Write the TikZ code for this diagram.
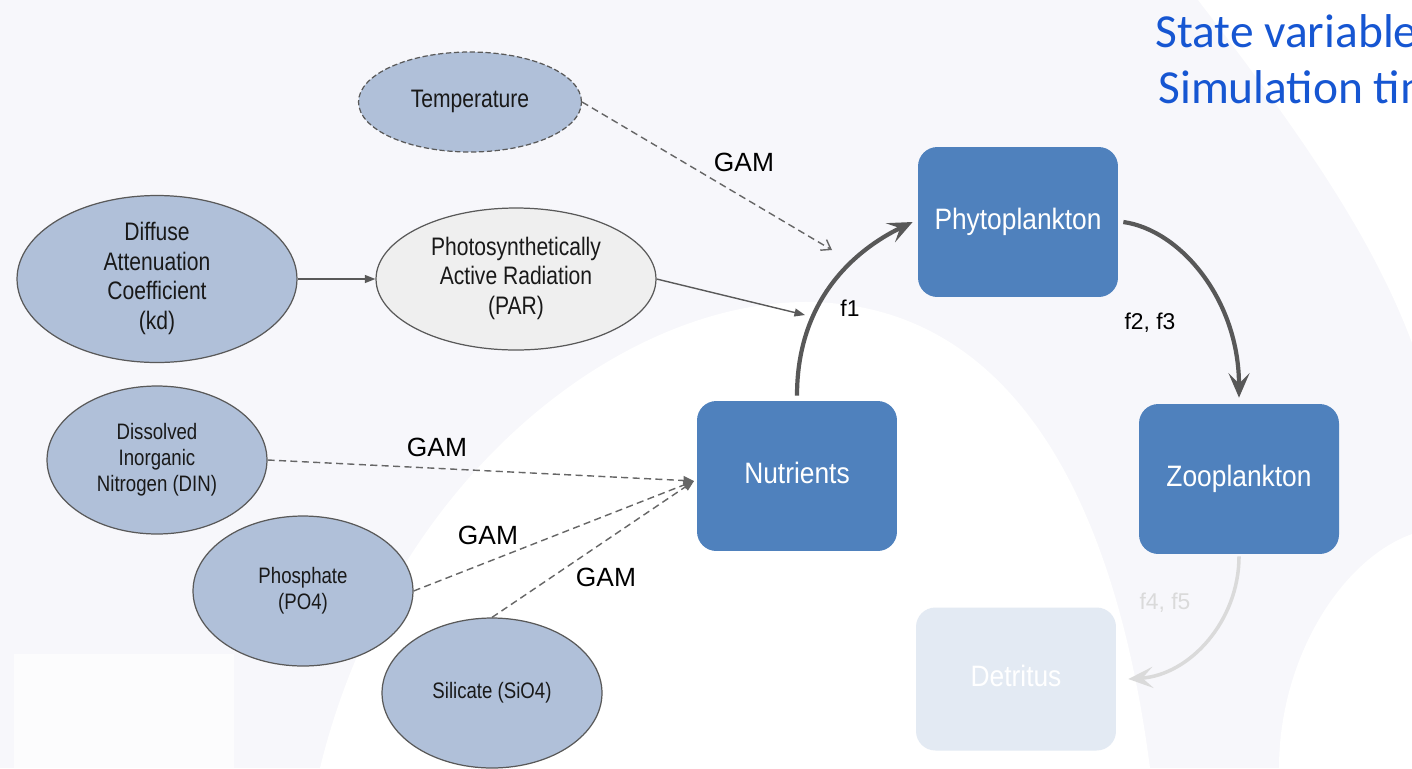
\documentclass[tikz,border=0pt]{standalone}
\usepackage{graphicx}
\usepackage{fontspec}
\setmainfont{Liberation Sans}
\newfontfamily\titlefont{Carlito}
\usetikzlibrary{shapes.geometric,arrows.meta}

\definecolor{bgpale}{RGB}{247,247,251}
\definecolor{ellblue}{RGB}{176,192,217}
\definecolor{pargray}{RGB}{239,239,239}
\definecolor{boxblue}{RGB}{79,129,189}
\definecolor{detpale}{RGB}{227,234,243}
\definecolor{linkgray}{RGB}{88,88,88}
\definecolor{fadegray}{RGB}{218,218,218}
\definecolor{titleblue}{RGB}{22,86,210}

\tikzstyle{driver}   = [ellipse, draw=black!65, line width=0.7pt, fill=ellblue, inner sep=0pt, text=black!90]
\tikzstyle{pool}     = [rectangle, rounded corners=11pt, fill=boxblue, text=white, minimum width=4cm, minimum height=3cm, font=\fontsize{15}{18}\selectfont]
\tikzstyle{gamlink}  = [draw=black!60, line width=0.8pt, dash pattern=on 4pt off 2.5pt, -{Triangle[length=6pt,width=5pt]}]
\tikzstyle{solidlink}= [draw=black!65, line width=0.8pt, -{Triangle[length=6pt,width=4.5pt]}]
\tikzstyle{flow}     = [draw=linkgray, line width=2.4pt, -{Stealth[length=14pt,width=12pt,inset=6pt]}]
\tikzstyle{gamlabel} = [font=\fontsize{15}{18}\selectfont]
\tikzstyle{flabel}   = [font=\fontsize{13}{15}\selectfont]
\newcommand{\tall}[2][1.2]{\scalebox{1}[#1]{\begin{tabular}{@{}c@{}}#2\end{tabular}}}

\begin{document}
\begin{tikzpicture}[x=0.02cm, y=-0.02cm]
  \useasboundingbox (0,0) rectangle (1412,768);
  \clip (0,0) rectangle (1412,768);
  % background
  \fill[bgpale] (0,0) rectangle (1412,768);
  \fill[white] (320,768) .. controls (390,480) and (620,300) .. (810,302)
               .. controls (990,305) and (1110,460) .. (1150,768) -- cycle;
  \fill[white] (1198,0) .. controls (1290,120) and (1370,230) .. (1412,343) -- (1412,0) -- cycle;
  \fill[white] (1279,768) .. controls (1279,660) and (1340,560) .. (1412,534) -- (1412,768) -- cycle;
  \fill[white!60!bgpale] (14,654) rectangle (234,768);

  % drivers
  \node[driver, dash pattern=on 3pt off 1.5pt, minimum width=4.46cm, minimum height=2cm,
        font=\fontsize{12}{14}\selectfont] (temp) at (470,102) {\tall{Temperature}};
  \node[driver, minimum width=5.6cm, minimum height=2.84cm, font=\fontsize{12}{14}\selectfont]
        (kd) at (157,279) {\tall{Diffuse\\Attenuation\\Coefficient\\(kd)}};
  \node[driver, fill=pargray, minimum width=5.6cm, minimum height=2.84cm, font=\fontsize{12}{14}\selectfont]
        (par) at (516,279) {\tall{Photosynthetically\\Active Radiation\\(PAR)}};
  \node[driver, minimum width=4.4cm, minimum height=2.96cm, font=\fontsize{10.6}{12.3}\selectfont]
        (din) at (157,460) {\tall{Dissolved\\Inorganic\\Nitrogen (DIN)}};
  \node[driver, minimum width=4.4cm, minimum height=3cm, font=\fontsize{10.6}{12.3}\selectfont]
        (po4) at (303,591) {\tall{Phosphate\\(PO4)}};
  \node[driver, minimum width=4.4cm, minimum height=3cm, font=\fontsize{10.6}{12.3}\selectfont]
        (sio4) at (492,693) {\tall{Silicate (SiO4)}};

  % state variables
  \node[pool] (phyto) at (1018,222) {\tall[1.12]{Phytoplankton}};
  \node[pool] (nut)   at (797,476)  {\tall[1.12]{Nutrients}};
  \node[pool] (zoo)   at (1239,479) {\tall[1.12]{Zooplankton}};
  \node[pool, fill=detpale, minimum height=2.86cm] (det) at (1016,679) {\tall[1.12]{Detritus}};

  \coordinate (tempEnd) at (832,250);
  \coordinate (parEnd)  at (805,315);
  \coordinate (nutIn)   at (694,481);

  % forcing links
  \draw[solidlink] (kd) -- (par);
  \draw[gamlink, -{Straight Barb[length=5pt,width=7pt]}] (temp.east) -- (tempEnd);
  \draw[solidlink] (par.east) -- (parEnd);
  \draw[gamlink] (din.east) -- (nutIn);
  \draw[gamlink] (po4.east) -- (nutIn);
  \draw[gamlink] (sio4.north) -- (nutIn);
  \node[gamlabel] (gamT) at (744,162) {GAM};
  \node[gamlabel] (gamD) at (437,447) {GAM};
  \node[gamlabel] (gamP) at (488,535) {GAM};
  \node[gamlabel] (gamS) at (606,577) {GAM};

  % fluxes
  \draw[flow] ([yshift=0.1cm]nut.north) .. controls +(0,-96) and +(-58,28) .. ([xshift=-0.1cm]phyto.west);
  \draw[flow] ([xshift=0.1cm]phyto.east) .. controls +(57,8) and +(0,-98) .. ([yshift=0.12cm]zoo.north);
  \draw[flow, draw=fadegray, line width=2pt] ([yshift=-0.04cm]zoo.south) .. controls +(0,64) and +(62,-4) .. ([xshift=0.24cm]det.east);
  \node[flabel] (f1) at (850,308) {f1};
  \node[flabel] (f23) at (1150,323) {f2, f3};
  \node[flabel, text=fadegray] (f45) at (1165,603) {f4, f5};

  % title
  \node[anchor=base west, inner sep=0pt, text=titleblue, font=\titlefont\fontsize{27}{32}\selectfont]
        (title1) at (1155,47) {State variables};
  \node[anchor=base west, inner sep=0pt, text=titleblue, font=\titlefont\fontsize{27}{32}\selectfont]
        (title2) at (1158,103) {Simulation time};
\end{tikzpicture}
\end{document}
